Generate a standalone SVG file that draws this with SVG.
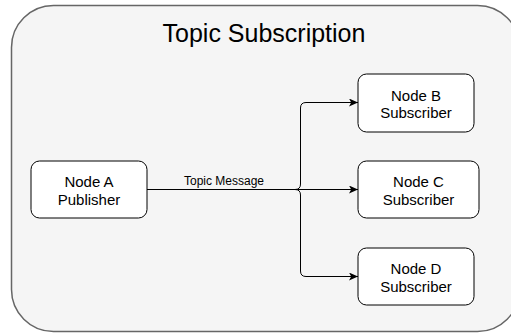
<svg xmlns="http://www.w3.org/2000/svg" width="511" height="334" viewBox="0 0 511 334">
<style>
.node rect{fill:#ffffff;stroke:#000000;stroke-width:1}
.t{font-family:"Liberation Sans",Arial,sans-serif;font-size:15px;fill:#000;text-anchor:middle}
.edge{fill:none;stroke:#000;stroke-width:1}
</style>
<defs>
<marker id="arr" markerWidth="10" markerHeight="8" refX="9" refY="4" orient="auto" markerUnits="userSpaceOnUse">
<path d="M0,0 L9,4 L0,8 L2.2,4 Z" fill="#000"/>
</marker>
</defs>
<g id="container">
<rect x="11.5" y="5.5" width="508" height="326" rx="42" ry="42" fill="#f5f5f5" stroke="#666666" stroke-width="1.5"/>
<text x="264" y="42" font-family="Liberation Sans,Arial,sans-serif" font-size="25" text-anchor="middle" fill="#000">Topic Subscription</text>
</g>
<g id="connectors">
<path class="edge" d="M147,189.5 H295 Q300.5,189.5 300.5,184 V108 Q300.5,102.5 306,102.5 H358" marker-end="url(#arr)"/>
<path class="edge" d="M295,189.5 H358" marker-end="url(#arr)"/>
<path class="edge" d="M295,189.5 Q300.5,189.5 300.5,195 V271 Q300.5,276.5 306,276.5 H358" marker-end="url(#arr)"/>
<text x="224" y="185" font-family="Liberation Sans,Arial,sans-serif" font-size="12" text-anchor="middle" fill="#000">Topic Message</text>
</g>
<g id="nodeA" class="node">
<rect x="31" y="161" width="116" height="57" rx="8.5"/>
<text class="t" x="89" y="187">Node A</text>
<text class="t" x="89" y="204.5">Publisher</text>
</g>
<g id="nodeB" class="node">
<rect x="358" y="74" width="116" height="58" rx="8.5"/>
<text class="t" x="416" y="100.5">Node B</text>
<text class="t" x="416" y="118">Subscriber</text>
</g>
<g id="nodeC" class="node">
<rect x="358" y="161" width="121" height="57" rx="8.5"/>
<text class="t" x="418.5" y="187">Node C</text>
<text class="t" x="418.5" y="204.5">Subscriber</text>
</g>
<g id="nodeD" class="node">
<rect x="358" y="248" width="116" height="57" rx="8.5"/>
<text class="t" x="416" y="274">Node D</text>
<text class="t" x="416" y="291.5">Subscriber</text>
</g>
</svg>
